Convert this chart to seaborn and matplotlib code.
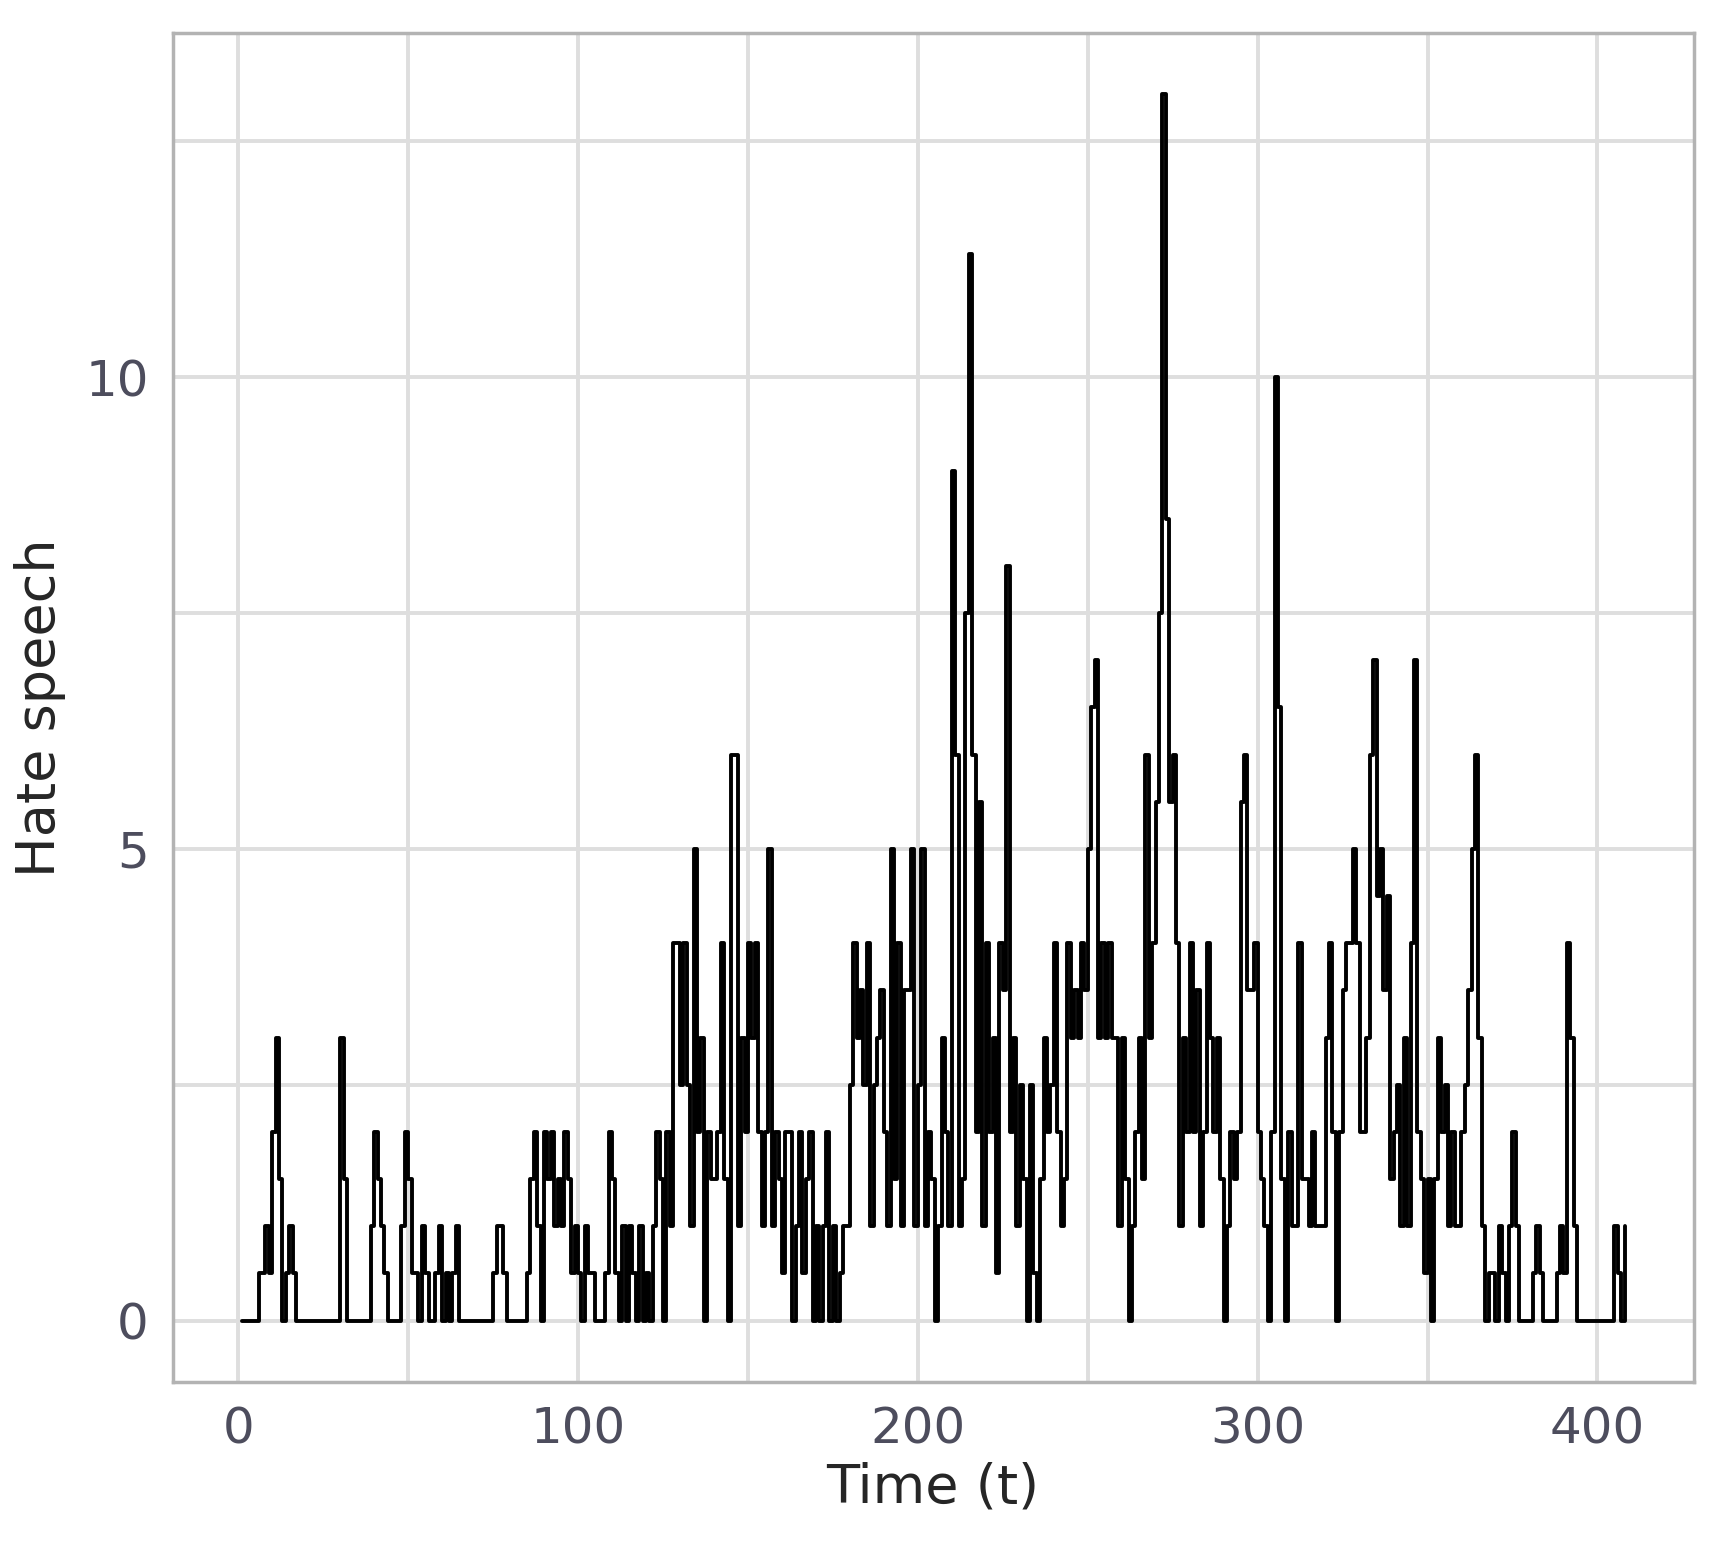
import numpy as np
import pandas as pd
import seaborn as sns
import matplotlib.pyplot as plt
from matplotlib.ticker import MultipleLocator

# hate speech counts per time step
hate = [
    0, 0, 0, 0, 0, 0.5, 0.5, 1, 0.5, 2,
    3, 1.5, 0, 0.5, 1, 0.5, 0, 0, 0, 0,
    0, 0, 0, 0, 0, 0, 0, 0, 0, 3,
    1.5, 0, 0, 0, 0, 0, 0, 0, 1, 2,
    1.5, 1, 0.5, 0, 0, 0, 0, 1, 2, 1.5,
    0.5, 0.5, 0, 1, 0.5, 0, 0, 0.5, 1, 0,
    0.5, 0, 0.5, 1, 0, 0, 0, 0, 0, 0,
    0, 0, 0, 0, 0.5, 1, 1, 0.5, 0, 0,
    0, 0, 0, 0, 0.5, 1.5, 2, 1, 0, 2,
    1.5, 2, 1, 1.5, 1, 2, 1.5, 0.5, 1, 0.5,
    0, 1, 0.5, 0.5, 0, 0, 0, 0.5, 2, 1.5,
    0.5, 0, 1, 0, 1, 0.5, 0, 1, 0, 0.5,
    0, 1, 2, 1.5, 0, 2, 1, 4, 4, 2.5,
    4, 2.5, 1, 5, 2, 3, 0, 2, 1.5, 1.5,
    2, 4, 1.5, 0, 6, 6, 1, 3, 2, 4,
    3, 4, 2, 1, 2, 5, 1, 2, 1.5, 0.5,
    2, 2, 0, 1, 2, 0.5, 1.5, 2, 0, 1,
    0, 1, 2, 0, 1, 0, 0.5, 1, 1, 2.5,
    4, 3, 3.5, 2.5, 4, 1, 2.5, 3, 3.5, 2,
    1, 5, 1.5, 4, 1, 3.5, 3.5, 5, 1, 2.5,
    5, 1, 2, 1.5, 0, 1, 3, 2, 1, 9,
    6, 1, 1.5, 7.5, 11.3, 6, 2, 5.5, 1, 4,
    2, 3, 0.5, 4, 3.5, 8, 2, 3, 1, 2.5,
    1.5, 0, 2.5, 0.5, 0, 1.5, 3, 2, 2.5, 4,
    2, 1, 1.5, 4, 3, 3.5, 3, 4, 3.5, 5,
    6.5, 7, 3, 4, 3, 4, 3, 3, 1, 3,
    1.5, 0, 1, 2, 3, 1.5, 6, 3, 4, 5.5,
    7.5, 13, 8.5, 5.5, 6, 4, 1, 3, 2, 4,
    2, 3.5, 1, 2, 4, 3, 2, 3, 1.5, 0,
    1, 2, 1.5, 2, 5.5, 6, 3.5, 3.5, 4, 2,
    1.5, 1, 0, 2, 10, 6.5, 1.5, 0, 2, 1,
    1, 4, 1.5, 1.5, 1, 2, 1, 1, 1, 3,
    4, 2, 0, 2, 3.5, 4, 4, 5, 4, 2,
    2, 3, 6, 7, 4.5, 5, 3.5, 4.5, 1.5, 2,
    2.5, 1, 3, 1, 4, 7, 2, 1.5, 0.5, 1.5,
    0, 1.5, 3, 2, 2.5, 1, 2, 1, 1, 2,
    2.5, 3.5, 5, 6, 3, 1, 0, 0.5, 0.5, 0,
    1, 0.5, 0, 1, 2, 1, 0, 0, 0, 0,
    0.5, 1, 0.5, 0, 0, 0, 0, 0.5, 1, 0.5,
    4, 3, 1, 0, 0, 0, 0, 0, 0, 0,
    0, 0, 0, 0, 1, 0.5, 0, 1,
]
time = list(range(1, len(hate) + 1))

df = pd.DataFrame({'t': time, 'hate': hate})

sns.set_style('white')
fig = plt.figure(figsize=(17.15, 15.58), dpi=100)
ax = fig.add_axes([0.1006, 0.113, 0.887, 0.866])

sns.lineplot(data=df, x='t', y='hate', drawstyle='steps-post', color='black', linewidth=2.8, ax=ax)

ax.set_xlim(-19.35, 428.35)
ax.set_ylim(-0.65, 13.65)
ax.xaxis.set_major_locator(MultipleLocator(100))
ax.xaxis.set_minor_locator(MultipleLocator(50))
ax.yaxis.set_major_locator(MultipleLocator(5))
ax.yaxis.set_minor_locator(MultipleLocator(2.5))
ax.grid(which='both', color='#DEDEDE', linewidth=2.8)
ax.set_axisbelow(True)
for s in ax.spines.values():
    s.set_color('#B3B3B3')
    s.set_linewidth(2.5)
ax.tick_params(which='major', length=9, width=2.5, color='#B3B3B3', labelsize=36, labelcolor='#4D4D5D', pad=8)
ax.tick_params(which='minor', length=0)
ax.set_xlabel('Time (t)', fontsize=39, labelpad=6)
ax.set_ylabel('Hate speech', fontsize=39, labelpad=14)

fig.savefig('out.png', dpi=100)
